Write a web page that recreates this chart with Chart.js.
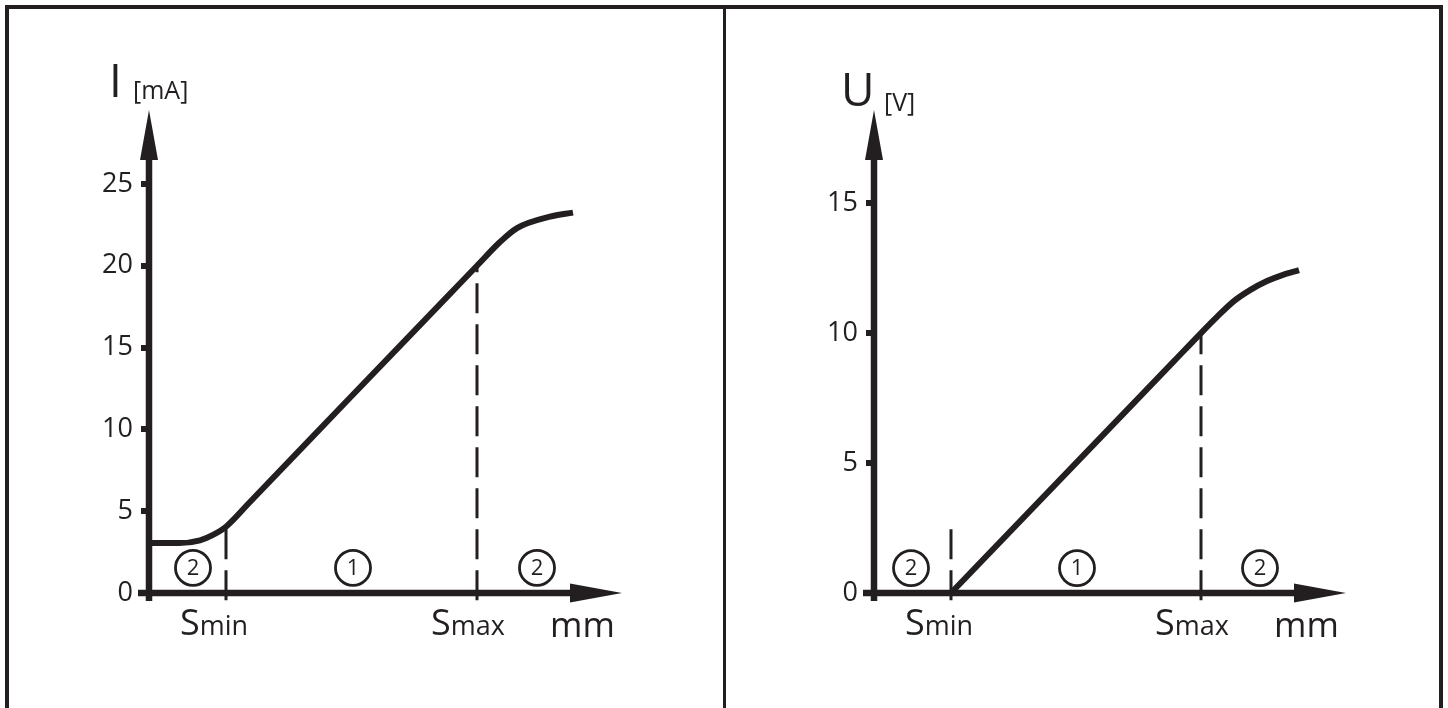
<!DOCTYPE html>
<html>
<head>
<meta charset="utf-8">
<script src="https://cdn.jsdelivr.net/npm/chart.js@4.4.1/dist/chart.umd.min.js"></script>
<style>
  html, body { margin: 0; padding: 0; background: #fff; }
  #page { position: relative; width: 1448px; height: 708px; overflow: hidden; }
  canvas { position: absolute; top: 0; }
  #c-current { left: 0; }
  #c-voltage { left: 724px; }
  .rule { position: absolute; background: #231f20; }
</style>
</head>
<body>
<div id="page">
  <div class="rule" style="left:5px;top:5px;width:1438px;height:4px"></div>
  <div class="rule" style="left:5px;top:5px;width:4px;height:703px"></div>
  <div class="rule" style="left:1439px;top:5px;width:4px;height:703px"></div>
  <div class="rule" style="left:723px;top:5px;width:3px;height:703px"></div>
  <canvas id="c-current" width="724" height="708"></canvas>
  <canvas id="c-voltage" width="724" height="708"></canvas>
</div>
<script>
const INK = '#231f20';
const FONT = "'Open Sans', sans-serif";

// current output, I [mA] over distance (x in arbitrary mm units)
const curX = [0, 3.0, 5.1, 6.4, 7.7, 10, 20, 30, 32.8, 35.1, 36.8, 40.1, 42.4];
const curY = [3.05, 3.05, 3.22, 3.55, 4.05, 5.5, 11.87, 18.22, 20.0, 21.45, 22.3, 23.0, 23.25];
const curTicks = [0, 5, 10, 15, 20, 25];
const curSmin = 7.7, curSmax = 32.8;
const curDashTop = [4.05, 20.0];
const curMarkX = [4.4, 20.4, 38.8];
const curMarkY = 1.53;

// voltage output, U [V]
const volX = [7.7, 20, 30, 32.7, 34.3, 35.9, 37.6, 39.3, 40.9, 42.5];
const volY = [0, 4.92, 8.92, 10.0, 10.62, 11.2, 11.65, 12.0, 12.24, 12.42];
const volTicks = [0, 5, 10, 15];
const volSmin = 7.7, volSmax = 32.7;
const volDashTop = [2.55, 10.0];
const volMarkX = [3.7, 20.3, 38.6];
const volMarkY = 0.96;

const markLabels = ['2', '1', '2'];

function pts(xs, ys) { return xs.map((x, i) => ({ x, y: ys[i] })); }

function makeChart(id, o) {
    const arrowAxes = {
        id: 'arrowAxes',
        beforeDatasetsDraw(chart) {
            const { ctx, scales: { x, y } } = chart;
            const ox = x.getPixelForValue(0), oy = y.getPixelForValue(0);
            const tipX = x.right, tipY = y.top;
            ctx.save();
            ctx.strokeStyle = INK; ctx.fillStyle = INK;
            ctx.lineWidth = 6.5; ctx.lineCap = 'butt';
            ctx.beginPath();
            ctx.moveTo(ox, oy + 8); ctx.lineTo(ox, tipY + 46);
            ctx.moveTo(ox - 11, oy); ctx.lineTo(tipX - 48, oy);
            ctx.stroke();
            ctx.beginPath();
            ctx.moveTo(ox, tipY); ctx.lineTo(ox - 9, tipY + 50); ctx.lineTo(ox + 9, tipY + 50); ctx.closePath();
            ctx.moveTo(tipX, oy); ctx.lineTo(tipX - 52, oy - 9.5); ctx.lineTo(tipX - 52, oy + 9.5); ctx.closePath();
            ctx.fill();
            ctx.restore();
        }
    };

    const texts = {
        id: 'texts',
        afterDraw(chart) {
            const { ctx, scales: { x, y } } = chart;
            const ox = x.getPixelForValue(0), oy = y.getPixelForValue(0);
            ctx.save();
            ctx.fillStyle = INK;
            ctx.textBaseline = 'alphabetic';
            ctx.textAlign = 'left';
            // axis title
            ctx.font = `46px ${FONT}`;
            ctx.fillText(o.title, ox + o.titleDx, y.top + o.titleDy);
            ctx.font = `25px ${FONT}`;
            ctx.fillText(o.unit, ox + o.unitDx, y.top + o.unitDy);
            // S min / S max
            [[o.smin, 'min'], [o.smax, 'max']].forEach(([v, sub]) => {
                const px = x.getPixelForValue(v) - 46;
                ctx.font = `36px ${FONT}`;
                ctx.fillText('S', px, oy + 42);
                const w = ctx.measureText('S').width;
                ctx.font = `27px ${FONT}`;
                ctx.fillText(sub, px + w, oy + 42);
            });
            ctx.font = `35px ${FONT}`;
            ctx.fillText('mm', x.right - 72, oy + 44);
            // circled numbers
            const meta = chart.getDatasetMeta(3);
            ctx.font = `22px ${FONT}`;
            ctx.textAlign = 'center';
            ctx.textBaseline = 'middle';
            meta.data.forEach((p, i) => ctx.fillText(markLabels[i], p.x, p.y + 1));
            ctx.restore();
        }
    };

    return new Chart(document.getElementById(id), {
        type: 'line',
        data: {
            datasets: [
                {
                    data: pts(o.xs, o.ys), borderColor: INK, borderWidth: 6,
                    pointRadius: 0, cubicInterpolationMode: 'monotone',
                    borderJoinStyle: 'round', clip: false,
                },
                {
                    data: [{ x: o.smin, y: o.dashBottom }, { x: o.smin, y: o.dashTop[0] }],
                    borderColor: INK, borderWidth: 3, borderDash: [30, 11],
                    pointRadius: 0, clip: false,
                },
                {
                    data: [{ x: o.smax, y: o.dashBottom }, { x: o.smax, y: o.dashTop[1] }],
                    borderColor: INK, borderWidth: 3, borderDash: [30, 11],
                    pointRadius: 0, clip: false,
                },
                {
                    data: o.markX.map(mx => ({ x: mx, y: o.markY })),
                    showLine: false, pointRadius: 17.5, pointBorderWidth: 2.8,
                    pointBackgroundColor: '#fff', pointBorderColor: INK, clip: false,
                },
            ],
        },
        options: {
            responsive: false, animation: false, events: [],
            layout: { padding: { top: 110, right: 102, bottom: 115, left: 0 } },
            plugins: { legend: { display: false }, tooltip: { enabled: false } },
            scales: {
                x: { type: 'linear', display: false, min: 0, max: o.xMax },
                y: {
                    type: 'linear', min: 0, max: o.yMax,
                    afterBuildTicks: s => { s.ticks = o.ticks.map(v => ({ value: v })); },
                    afterFit: s => { s.width = o.left; },
                    border: { display: false },
                    grid: { drawOnChartArea: false, drawTicks: true, tickLength: 8, lineWidth: 6, color: INK },
                    ticks: { color: INK, padding: 8, font: { family: FONT, size: 27 } },
                },
            },
        },
        plugins: [arrowAxes, texts],
    });
}

makeChart('c-current', {
    xs: curX, ys: curY, ticks: curTicks, smin: curSmin, smax: curSmax,
    dashTop: curDashTop, dashBottom: -0.45, markX: curMarkX, markY: curMarkY,
    xMax: 47.3, yMax: 29.52, left: 149,
    title: 'I', titleDx: -40, titleDy: -13, unit: '[mA]', unitDx: -16, unitDy: -11,
});

makeChart('c-voltage', {
    xs: volX, ys: volY, ticks: volTicks, smin: volSmin, smax: volSmax,
    dashTop: volDashTop, dashBottom: -0.28, markX: volMarkX, markY: volMarkY,
    xMax: 47.2, yMax: 18.58, left: 150,
    title: 'U', titleDx: -33, titleDy: -4, unit: '[V]', unitDx: 10, unitDy: 1,
});
</script>
</body>
</html>
